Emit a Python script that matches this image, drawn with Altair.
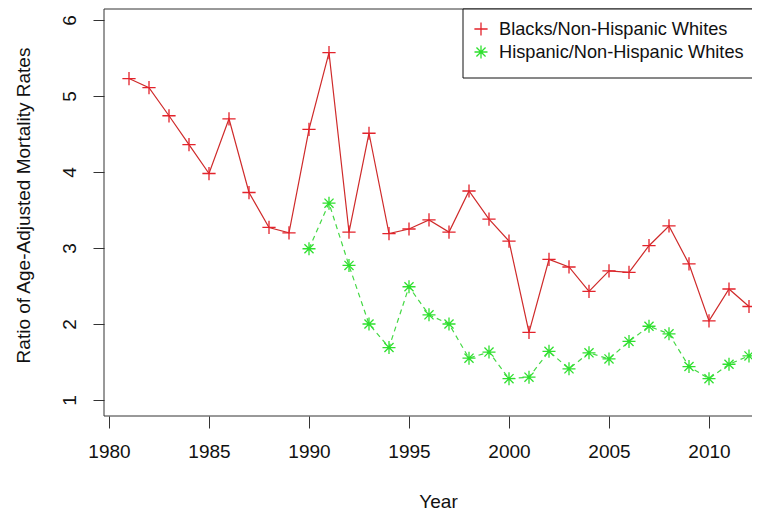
import altair as alt
import pandas as pd

# ---- data ----
series_names = ["Blacks/Non-Hispanic Whites", "Hispanic/Non-Hispanic Whites"]

years_black = list(range(1981, 2013))
ratio_black = [5.23, 5.11, 4.74, 4.36, 3.98, 4.70, 3.73, 3.27, 3.20, 4.56,
               5.57, 3.21, 4.51, 3.19, 3.25, 3.37, 3.21, 3.75, 3.38, 3.09,
               1.89, 2.85, 2.75, 2.43, 2.70, 2.68, 3.03, 3.29, 2.79, 2.04,
               2.46, 2.23]

years_hisp = list(range(1990, 2013))
ratio_hisp = [2.99, 3.59, 2.77, 2.00, 1.69, 2.49, 2.12, 2.00, 1.55, 1.63,
              1.28, 1.30, 1.64, 1.41, 1.62, 1.54, 1.77, 1.97, 1.87, 1.44,
              1.28, 1.47, 1.58]

x_ticks = [1980, 1985, 1990, 1995, 2000, 2005, 2010]
y_ticks = [1, 2, 3, 4, 5, 6]

df_b = pd.DataFrame({"year": years_black, "ratio": ratio_black})
df_h = pd.DataFrame({"year": years_hisp, "ratio": ratio_hisp})

RED_LINE = "#CF2A2A"
RED_PT = "#E3232B"
GRN_LINE = "#45D845"
GRN_PT = "#2FE02F"
PLUS = "M-1,0L1,0M0,-1L0,1"
STAR = "M-1,0L1,0M0,-1L0,1M-0.7,-0.7L0.7,0.7M-0.7,0.7L0.7,-0.7"

FS = 19
LEG_FS = 18.2
FONT = "Liberation Sans"
W, H = 648, 407

x_enc = alt.X(
    "year:Q",
    scale=alt.Scale(domain=[1979.75, 2012.15], nice=False, zero=False),
    axis=alt.Axis(values=x_ticks, format="d", title="Year", grid=False,
                  domain=False, tickSize=12, tickColor="#333", tickWidth=1,
                  labelPadding=14, labelFontSize=FS, labelColor="#111",
                  labelFont=FONT, labelFlush=False, labelBaseline="top",
                  titleFont=FONT, titleFontSize=FS, titleFontWeight="normal",
                  titleColor="#111", titleX=334, titleY=91,
                  titleBaseline="alphabetic", titleAnchor="start",
                  titleAlign="center"),
)
y_enc = alt.Y(
    "ratio:Q",
    scale=alt.Scale(domain=[0.789, 6.145], nice=False, zero=False),
    axis=alt.Axis(values=y_ticks, format="d",
                  title="Ratio of Age-Adjusted Mortality Rates", grid=False,
                  domain=False, tickSize=11, tickColor="#333", tickWidth=1,
                  labelAngle=270, labelAlign="center", labelBaseline="bottom",
                  labelPadding=14, labelFontSize=FS, labelColor="#111",
                  labelFont=FONT, labelFlush=False,
                  titleFont=FONT, titleFontSize=FS, titleFontWeight="normal",
                  titleColor="#111", titleAngle=270, titleX=-75, titleY=196,
                  titleAlign="center", titleBaseline="alphabetic"),
)

line_b = alt.Chart(df_b).mark_line(color=RED_LINE, strokeWidth=1.2).encode(x=x_enc, y=y_enc)
pts_b = alt.Chart(df_b).mark_point(shape=PLUS, size=175, filled=False,
                                   color=RED_PT, strokeWidth=1.3, opacity=1).encode(x="year:Q", y="ratio:Q")
line_h = alt.Chart(df_h).mark_line(color=GRN_LINE, strokeWidth=1.2,
                                   strokeDash=[5, 4]).encode(x="year:Q", y="ratio:Q")
pts_h = alt.Chart(df_h).mark_point(shape=STAR, size=169, filled=False,
                                   color=GRN_PT, strokeWidth=1.3, opacity=1).encode(x="year:Q", y="ratio:Q")

# plot frame: the right side runs past the window edge, as in the reference
frame = alt.Chart(pd.DataFrame({"k": [0]})).mark_rect(
    fill=None, stroke="#333", strokeWidth=1
).encode(x=alt.value(0), x2=alt.value(W + 20), y=alt.value(0), y2=alt.value(H))

# ---- legend box (drawn as marks; its right side runs past the edge) ----
leg_df = pd.DataFrame({"label": series_names})
leg_box = alt.Chart(leg_df.head(1)).mark_rect(
    fill="white", stroke="#111", strokeWidth=1
).encode(x=alt.value(359), x2=alt.value(W + 20), y=alt.value(0), y2=alt.value(69))
leg_sym_b = alt.Chart(leg_df.head(1)).mark_point(
    shape=PLUS, size=175, filled=False, color=RED_PT, strokeWidth=1.3, opacity=1
).encode(x=alt.value(377), y=alt.value(20))
leg_sym_h = alt.Chart(leg_df.head(1)).mark_point(
    shape=STAR, size=169, filled=False, color=GRN_PT, strokeWidth=1.3, opacity=1
).encode(x=alt.value(377), y=alt.value(43))
leg_txt_b = alt.Chart(leg_df.iloc[[0]]).mark_text(
    align="left", baseline="middle", fontSize=LEG_FS, font=FONT, color="#111"
).encode(text="label:N", x=alt.value(395), y=alt.value(21))
leg_txt_h = alt.Chart(leg_df.iloc[[1]]).mark_text(
    align="left", baseline="middle", fontSize=LEG_FS, font=FONT, color="#111"
).encode(text="label:N", x=alt.value(395), y=alt.value(44))

chart = alt.layer(
    line_b, line_h, pts_b, pts_h, frame,
    leg_box, leg_sym_b, leg_sym_h, leg_txt_b, leg_txt_h
).properties(
    width=W, height=H,
    autosize=alt.AutoSizeParams(type="none"),
    padding={"left": 96, "top": 1, "right": 0, "bottom": 96},
    background="white",
).configure_view(stroke=None)

chart.save("out.html", embed_options={"renderer": "svg", "actions": False})
